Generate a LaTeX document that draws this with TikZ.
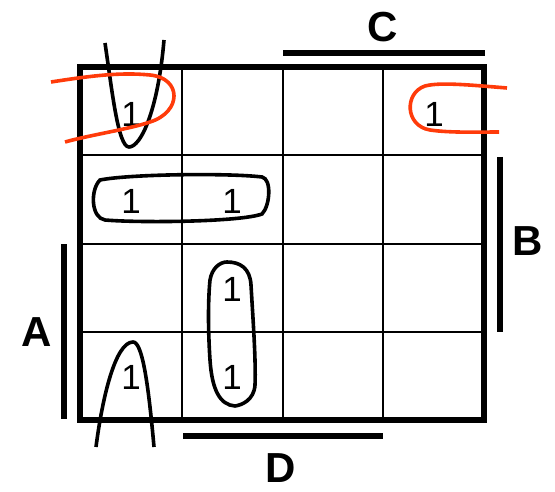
\documentclass[tikz,border=0pt]{standalone}
\usepackage{fontspec}
\setmainfont{Liberation Sans}
\usepackage{tikz}
\usepackage{xcolor}
\usetikzlibrary{calc}
\definecolor{ink}{HTML}{000000}
\definecolor{loopred}{HTML}{FF3B0A}
\tikzset{
  gridline/.style={draw=ink,line width=1.4pt},
  frame/.style={draw=ink,line width=2.8pt},
  varbar/.style={draw=ink,line width=3pt},
  varname/.style={font=\fontsize{21}{24}\selectfont\bfseries,inner sep=0pt},
  minterm/.style={font=\fontsize{17.5}{20}\selectfont,inner sep=0pt},
  blackloop/.style={draw=ink,line width=1.8pt},
  redloop/.style={draw=loopred,line width=1.8pt}
}

\begin{document}
\begin{tikzpicture}[x=0.5pt,y=-0.5pt]
  \path[use as bounding box] (0,0) rectangle (555,491);
  % map grid
  \foreach \xx in {182,283,383}{
    \draw[gridline] (\xx,67) -- (\xx,420);
  }
  \foreach \yy in {155,244,332}{
    \draw[gridline] (80,\yy) -- (484,\yy);
  }
  \draw[frame] (80,67) rectangle (484,420);
  % ones
  \node[minterm] (m0) at (131,114) {1};
  \node[minterm] (m2) at (434,114) {1};
  \node[minterm] (m4) at (131,201) {1};
  \node[minterm] (m5) at (232,201) {1};
  \node[minterm] (m13) at (232,289) {1};
  \node[minterm] (m9) at (232,377) {1};
  \node[minterm] (m8) at (131,377) {1};
  % variable bars
  \node[varname] (labC) at (383,27) {C};
  \node[varname] (labB) at (528,241) {B};
  \node[varname] (labA) at (37,332) {A};
  \node[varname] (labD) at (281,468) {D};
  \draw[varbar] (283,53) -- (485,53);
  \draw[varbar] (500,157) -- (500,332);
  \draw[varbar] (64,244) -- (64,419);
  \draw[varbar] (183,436) -- (383,436);
  % groups
  \draw[blackloop] (105,43) .. controls (112,90) and (118,147) .. (129,147)
    .. controls (141,147) and (158,110) .. (164,40);
  \draw[redloop] (51,82) .. controls (90,76) and (120,72) .. (150,75)
    .. controls (182,78) and (182,112) .. (150,122)
    .. controls (130,129) and (90,135) .. (65,142);
  \draw[redloop] (507,88) .. controls (470,85) and (440,82) .. (425,86)
    .. controls (404,93) and (405,126) .. (430,130)
    .. controls (450,133) and (480,132) .. (499,132);
  \draw[blackloop] (100,180) .. controls (130,174) and (230,173) .. (262,177)
    .. controls (272,179) and (270,206) .. (262,214)
    .. controls (240,222) and (140,223) .. (105,220)
    .. controls (91,218) and (90,190) .. (100,180) -- cycle;
  \draw[blackloop] (227,262) .. controls (240,262) and (250,268) .. (251,285)
    .. controls (253,320) and (256,360) .. (255,385)
    .. controls (254,400) and (242,405) .. (235,406)
    .. controls (220,405) and (212,390) .. (210,360)
    .. controls (208,330) and (208,300) .. (210,280)
    .. controls (212,268) and (220,262) .. (227,262) -- cycle;
  \draw[blackloop] (96,447) .. controls (102,400) and (115,342) .. (133,342)
    .. controls (142,342) and (148,380) .. (154,447);
\end{tikzpicture}
\end{document}
